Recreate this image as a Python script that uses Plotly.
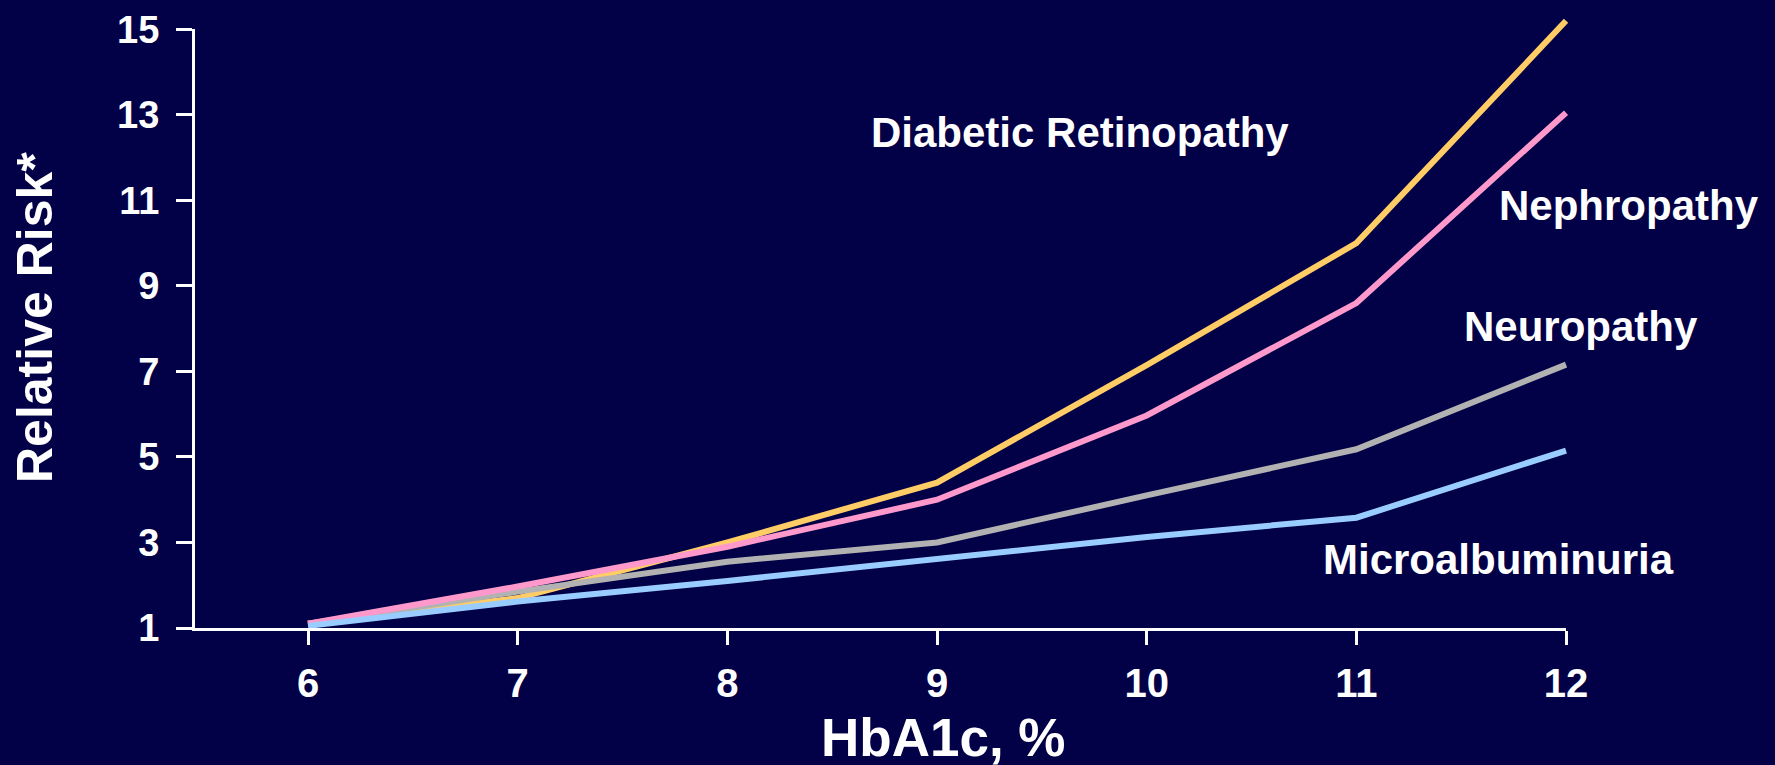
import plotly.graph_objects as go

# HbA1c (%) on the x axis
hba1c = [6, 7, 8, 9, 10, 11, 12]

# Relative risk for each complication
retinopathy = [1.1, 1.7, 3.0, 4.4, 7.15, 10.0, 15.2]
nephropathy = [1.1, 1.97, 2.9, 4.0, 5.97, 8.6, 13.05]
neuropathy = [1.1, 1.85, 2.55, 3.0, 4.1, 5.18, 7.16]
microalbuminuria = [1.05, 1.62, 2.1, 2.63, 3.13, 3.58, 5.15]

series_names = ["Diabetic Retinopathy", "Nephropathy", "Neuropathy", "Microalbuminuria"]
series_values = [retinopathy, nephropathy, neuropathy, microalbuminuria]
series_colors = ["#FFCC66", "#FF99CC", "#B2B2B2", "#99CCFF"]
draw_order = [0, 2, 1, 3]  # yellow underneath, blue on top

# Label anchor points (data coordinates) for the in-plot series names
label_x = [9.68, 12.30, 12.07, 11.68]
label_y = [12.58, 10.87, 8.04, 2.61]

x_ticks = [6, 7, 8, 9, 10, 11, 12]
y_ticks = [1, 3, 5, 7, 9, 11, 13, 15]

BG = "#020046"
FONT = "Liberation Sans, Arial, sans-serif"

W, H = 1775, 765
M_L, M_R, M_T, M_B = 195, 10, 0, 137

# Visible axis extent (the frame with ticks) and pixel scale
X_LO, X_HI = 5.461, 12.0
Y_LO, Y_HI = 1.0, 15.0
PX_PER_X = 209.67
PX_PER_Y = 42.76

plot_w = W - M_L - M_R
plot_h = H - M_T - M_B
# Data subplot spans the whole plotting region so curves can run past the frame
x_max = X_LO + plot_w / PX_PER_X
y_max = Y_LO + plot_h / PX_PER_Y
# Frame subplot covers only the 5.46..12 x 1..15 box with identical scale
x_frac = (X_HI - X_LO) / (x_max - X_LO)
y_frac = (Y_HI - Y_LO) / (y_max - Y_LO)

fig = go.Figure()

for i in draw_order:
    fig.add_trace(go.Scatter(
        x=hba1c, y=series_values[i], mode="lines", name=series_names[i],
        line=dict(color=series_colors[i], width=6),
        xaxis="x", yaxis="y", hoverinfo="x+y+name",
    ))

# Empty trace so the frame axes get drawn
fig.add_trace(go.Scatter(x=[], y=[], xaxis="x2", yaxis="y2", showlegend=False, hoverinfo="skip"))

annotations = []
for name, lx, ly in zip(series_names, label_x, label_y):
    annotations.append(dict(
        x=lx, y=ly, xref="x", yref="y", text=f"<b>{name}</b>",
        showarrow=False, xanchor="center", yanchor="middle",
        font=dict(family=FONT, size=42, color="white"),
    ))

# Axis titles
annotations.append(dict(
    x=9.03, y=(628 - 737) / plot_h, xref="x", yref="paper", text="<b>HbA1c, %</b>",
    showarrow=False, xanchor="center", yanchor="middle",
    font=dict(family=FONT, size=53, color="white"),
))
annotations.append(dict(
    x=(35 - M_L) / plot_w, y=(628 - 318) / plot_h, xref="paper", yref="paper",
    text="<b>Relative Risk*</b>",
    showarrow=False, xanchor="center", yanchor="middle", textangle=-90,
    font=dict(family=FONT, size=50, color="white"),
))

hidden = dict(visible=False, showgrid=False, zeroline=False, fixedrange=True)

fig.update_layout(
    width=W, height=H,
    margin=dict(l=M_L, r=M_R, t=M_T, b=M_B, autoexpand=False),
    paper_bgcolor=BG, plot_bgcolor="rgba(0,0,0,0)",
    showlegend=False,
    annotations=annotations,
    font=dict(family=FONT, color="white"),
    xaxis=dict(domain=[0, 1], range=[X_LO, x_max], anchor="y", **hidden),
    yaxis=dict(domain=[0, 1], range=[Y_LO, y_max], anchor="x", **hidden),
    xaxis2=dict(
        domain=[0, x_frac], range=[X_LO, X_HI], anchor="y2",
        tickvals=x_ticks, ticktext=[str(v) for v in x_ticks],
        showgrid=False, zeroline=False, fixedrange=True,
        showline=True, linecolor="white", linewidth=3,
        ticks="outside", ticklen=14, tickwidth=3, tickcolor="white",
        tickfont=dict(family=FONT, size=40, color="white", weight="bold"),
        ticklabelstandoff=4,
    ),
    yaxis2=dict(
        domain=[0, y_frac], range=[Y_LO, Y_HI], anchor="x2",
        tickvals=y_ticks, ticktext=[str(v) for v in y_ticks],
        showgrid=False, zeroline=False, fixedrange=True,
        showline=True, linecolor="white", linewidth=3,
        ticks="outside", ticklen=16, tickwidth=3, tickcolor="white",
        tickfont=dict(family=FONT, size=38, color="white", weight="bold"),
        ticklabelstandoff=9,
    ),
)

fig.write_html("out.html")
